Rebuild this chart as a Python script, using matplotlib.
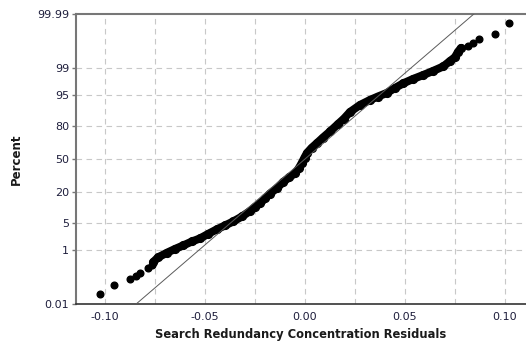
import numpy as np
import matplotlib
matplotlib.use("Agg")
import matplotlib.pyplot as plt
from statistics import NormalDist
import math

# ---- data ----
# isolated lower-tail points (residual, percent)
tail_lo_res = [-0.1025, -0.0954, -0.0875, -0.0843, -0.0825, -0.0784, -0.0767]
tail_lo_pct = [0.026, 0.063, 0.10, 0.135, 0.17, 0.25, 0.33]

# dense body of the probability plot (residual, percent)
body_res = [-0.0759, -0.0735, -0.0692, -0.0650, -0.0609, -0.0565, -0.0525, -0.0485,
            -0.0442, -0.0400, -0.0359, -0.0315, -0.0275, -0.0250, -0.0225, -0.0200,
            -0.0175, -0.0142, -0.0109, -0.0080, -0.0050, -0.0030, -0.0015, -0.00025,
            0.0010, 0.00325, 0.00585, 0.0090, 0.0125, 0.0165, 0.0195, 0.0225,
            0.0275, 0.0325, 0.0365, 0.04085, 0.0450, 0.04915, 0.0540, 0.05915,
            0.0640, 0.06915, 0.0725, 0.0750, 0.0765, 0.0780]
body_pct = [0.41, 0.58, 0.80, 1.05, 1.33, 1.72, 2.08, 2.72,
            3.53, 4.41, 5.45, 7.02, 9.1, 10.9, 12.7, 15.6,
            18.8, 22.5, 27.8, 31.8, 35.7, 40.9, 46.4, 51.5,
            56.1, 61.1, 65.6, 70.9, 76.0, 81.5, 85.0, 88.6,
            91.7, 93.5, 94.55, 95.47, 96.57, 97.39, 97.99, 98.44,
            98.80, 99.12, 99.40, 99.55, 99.70, 99.78]

# isolated upper-tail points
tail_hi_res = [0.0815, 0.0840, 0.08715, 0.0950, 0.1020]
tail_hi_pct = [99.81, 99.85, 99.90, 99.935, 99.975]

# fitted normal line
fit_mean = 0.0
fit_sd = 0.0227

y_ticks = [0.01, 1, 5, 20, 50, 80, 95, 99, 99.99]
y_tick_labels = ["0.01", "1", "5", "20", "50", "80", "95", "99", "99.99"]
x_ticks = [-0.10, -0.05, 0.00, 0.05, 0.10]
x_tick_labels = ["-0.10", "-0.05", "0.00", "0.05", "0.10"]
x_grid = [-0.10, -0.075, -0.05, -0.025, 0.0, 0.025, 0.05, 0.075, 0.10]

# ---- probability scale ----
_nd = NormalDist()
_ppf = np.vectorize(lambda v: _nd.inv_cdf(v / 100.0), otypes=[float])
_cdf = np.vectorize(lambda v: 50.0 * (1 + math.erf(v / math.sqrt(2))), otypes=[float])

def fwd(p):
    p = np.clip(np.asarray(p, dtype=float), 1e-9, 100 - 1e-9)
    return _ppf(p)

def inv(z):
    return _cdf(np.asarray(z, dtype=float))

plt.rcParams['font.family'] = ['DejaVu Sans']
plt.rcParams['axes.unicode_minus'] = False

fig = plt.figure(figsize=(5.26, 3.45), dpi=100)
ax = fig.add_axes([76 / 526, 41 / 345, 450 / 526, 290 / 345])
ax.set_yscale('function', functions=(fwd, inv))
ax.set_ylim(0.01, 99.99)
ax.set_xlim(-0.1145, 0.1105)

# grid
for gx in x_grid:
    ax.axvline(gx, color='#c8c8c8', lw=0.8, dashes=(5, 4), zorder=0)
for gy in y_ticks[1:-1]:
    ax.axhline(gy, color='#c8c8c8', lw=0.8, dashes=(5, 4), zorder=0)

# points
ax.plot(body_res, body_pct, '-', color='black', lw=5.8, solid_capstyle='round',
        solid_joinstyle='round', zorder=3)
ax.plot(body_res, body_pct, 'o', color='black', ms=5.6, zorder=3)
ax.plot(tail_lo_res, tail_lo_pct, 'o', color='black', ms=4.8, zorder=3)
ax.plot(tail_hi_res, tail_hi_pct, 'o', color='black', ms=4.8, zorder=3)

# fit line
fit_p = [0.01, 99.99]
fit_x = [NormalDist(fit_mean, fit_sd).inv_cdf(p / 100.0) for p in fit_p]
ax.plot(fit_x, fit_p, '-', color='#5a5a5a', lw=0.7, zorder=4)

# ticks
ax.set_yticks(y_ticks, y_tick_labels)
ax.yaxis.set_minor_locator(matplotlib.ticker.NullLocator())
ax.set_xticks(x_ticks, x_tick_labels)
ax.xaxis.set_minor_locator(matplotlib.ticker.NullLocator())
ax.tick_params(axis='y', length=3, width=1, color='#777777', pad=2,
               labelsize=8, labelcolor='#1e1e3c')
ax.tick_params(axis='x', length=0, pad=6, labelsize=8, labelcolor='#1e1e3c')

# spines
ax.spines['right'].set_visible(False)
ax.spines['top'].set_color('#777777')
ax.spines['top'].set_linewidth(1.5)
ax.spines['left'].set_color('#777777')
ax.spines['left'].set_linewidth(1.5)
ax.spines['bottom'].set_color('#333333')
ax.spines['bottom'].set_linewidth(1.2)

ax.set_xlabel('Search Redundancy Concentration Residuals', fontsize=8.3,
              fontweight='bold', color='#1a1a1a', labelpad=4)
ax.set_ylabel('Percent', fontsize=8.5, fontweight='bold', color='#1a1a1a', labelpad=10)

fig.savefig('out.png', dpi=100)
